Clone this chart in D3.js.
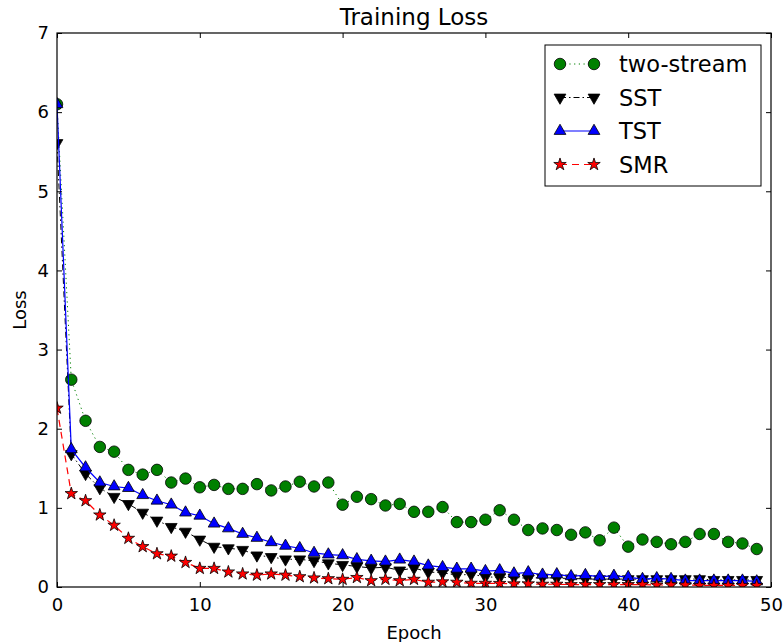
<html>

<head>
  <style>
    body {
      margin: 0;
      background: white;
    }
    text {
      font-family: "DejaVu Sans", sans-serif;
      fill: #000;
    }
  </style>
  <script src="https://d3js.org/d3.v7.min.js"></script>
</head>

<body>
  <svg></svg>
  <script type="text/javascript">
    var epochs = [0, 1, 2, 3, 4, 5, 6, 7, 8, 9, 10, 11, 12, 13, 14, 15, 16, 17, 18, 19,
      20, 21, 22, 23, 24, 25, 26, 27, 28, 29, 30, 31, 32, 33, 34, 35, 36, 37, 38, 39,
      40, 41, 42, 43, 44, 45, 46, 47, 48, 49]

    var twoStream = [6.10, 2.62, 2.10, 1.77, 1.71, 1.48, 1.42, 1.48, 1.32, 1.37,
      1.26, 1.29, 1.24, 1.24, 1.30, 1.22, 1.27, 1.33, 1.27, 1.32,
      1.04, 1.14, 1.11, 1.03, 1.05, 0.95, 0.95, 1.01, 0.82, 0.82,
      0.85, 0.97, 0.85, 0.72, 0.74, 0.72, 0.66, 0.69, 0.59, 0.75,
      0.51, 0.60, 0.57, 0.54, 0.57, 0.67, 0.67, 0.57, 0.55, 0.48]

    var sst = [5.61, 1.68, 1.43, 1.25, 1.14, 1.05, 0.94, 0.84, 0.76, 0.70,
      0.60, 0.51, 0.49, 0.47, 0.40, 0.38, 0.35, 0.35, 0.33, 0.30,
      0.28, 0.26, 0.24, 0.25, 0.21, 0.24, 0.19, 0.18, 0.15, 0.16,
      0.13, 0.12, 0.12, 0.11, 0.12, 0.11, 0.11, 0.10, 0.10, 0.10,
      0.10, 0.10, 0.10, 0.10, 0.10, 0.10, 0.09, 0.09, 0.09, 0.09]

    var tst = [6.10, 1.74, 1.51, 1.32, 1.27, 1.25, 1.16, 1.09, 1.04, 0.94,
      0.90, 0.80, 0.74, 0.67, 0.62, 0.565, 0.52, 0.49, 0.43, 0.41,
      0.40, 0.35, 0.33, 0.32, 0.345, 0.32, 0.27, 0.25, 0.23, 0.23,
      0.20, 0.21, 0.17, 0.185, 0.155, 0.16, 0.135, 0.15, 0.13, 0.14,
      0.125, 0.10, 0.11, 0.10, 0.08, 0.08, 0.08, 0.08, 0.08, 0.07]

    var smr = [2.26, 1.18, 1.09, 0.91, 0.78, 0.615, 0.51, 0.42, 0.39, 0.31,
      0.235, 0.235, 0.19, 0.165, 0.15, 0.165, 0.15, 0.13, 0.115, 0.105,
      0.097, 0.12, 0.08, 0.097, 0.08, 0.097, 0.06, 0.065, 0.06, 0.047,
      0.047, 0.045, 0.04, 0.04, 0.035, 0.035, 0.03, 0.03, 0.03, 0.03,
      0.03, 0.03, 0.025, 0.025, 0.025, 0.02, 0.02, 0.02, 0.02, 0.02]

    var seriesNames = ["two-stream", "SST", "TST", "SMR"]
    var xTicks = [0, 10, 20, 30, 40, 50]
    var yTicks = [0, 1, 2, 3, 4, 5, 6, 7]

    var w = 783
    var h = 642
    var plotLeft = 57
    var plotRight = 771
    var plotTop = 33
    var plotBottom = 587

    // line style per series
    var styles = [
      { color: "#008000", dash: "1.2,3.5", width: 1, marker: "circle" },
      { color: "#000000", dash: "6,3,1.5,3", width: 1, marker: "down" },
      { color: "#0000ff", dash: null, width: 1.2, marker: "up" },
      { color: "#ff0000", dash: "7,5", width: 1.2, marker: "star" }
    ]
    var allSeries = [twoStream, sst, tst, smr]

    var xScale = d3.scaleLinear().domain([0, 50]).range([plotLeft, plotRight])
    var yScale = d3.scaleLinear().domain([0, 7]).range([plotBottom, plotTop])

    var svg = d3.select("svg")
      .attr("width", w)
      .attr("height", h)

    svg.append("defs").append("clipPath")
      .attr("id", "plotclip")
      .append("rect")
      .attr("x", plotLeft)
      .attr("y", plotTop)
      .attr("width", plotRight - plotLeft)
      .attr("height", plotBottom - plotTop)

    var markerPath = function(kind) {
      if (kind == "circle") return d3.symbol().type(d3.symbolCircle).size(104)()
      if (kind == "star") return d3.symbol().type(d3.symbolStar).size(48)()
      return d3.symbol().type(d3.symbolTriangle).size(60)()
    }

    var drawMarker = function(g, kind, color, x, y) {
      g.append("path")
        .attr("d", markerPath(kind))
        .attr("transform", "translate(" + x + "," + y + ")" + (kind == "down" ? " rotate(180)" : ""))
        .attr("fill", color)
        .attr("stroke", "#000")
        .attr("stroke-width", 0.8)
    }

    var plot = svg.append("g").attr("clip-path", "url(#plotclip)")

    var line = d3.line()
      .x(function(d, i) { return xScale(epochs[i]) })
      .y(function(d) { return yScale(d) })

    allSeries.forEach(function(values, s) {
      var st = styles[s]
      var g = plot.append("g")
      g.append("path")
        .datum(values)
        .attr("d", line)
        .attr("fill", "none")
        .attr("stroke", st.color)
        .attr("stroke-width", st.width)
        .attr("stroke-dasharray", st.dash)
      values.forEach(function(v, i) {
        drawMarker(g, st.marker, st.color, xScale(epochs[i]), yScale(v))
      })
    })

    // axes, ticks pointing inward on all four sides
    var xAxis = d3.axisBottom(xScale).tickValues(xTicks).tickSize(-5).tickPadding(11)
      .tickFormat(d3.format("d"))
    var yAxis = d3.axisLeft(yScale).tickValues(yTicks).tickSize(-5).tickPadding(8)
      .tickFormat(d3.format("d"))

    svg.append("g")
      .attr("transform", "translate(0," + plotBottom + ")")
      .call(xAxis)
    svg.append("g")
      .attr("transform", "translate(" + plotLeft + ",0)")
      .call(yAxis)
    svg.append("g")
      .attr("transform", "translate(0," + plotTop + ")")
      .call(d3.axisTop(xScale).tickValues(xTicks).tickSize(-5).tickFormat(""))
    svg.append("g")
      .attr("transform", "translate(" + plotRight + ",0)")
      .call(d3.axisRight(yScale).tickValues(yTicks).tickSize(-5).tickFormat(""))

    svg.selectAll(".domain").remove()
    svg.selectAll(".tick line").attr("stroke", "#000").attr("stroke-width", 1)
    svg.selectAll(".tick text")
      .style("font-size", "18px")
      .style("font-family", "'DejaVu Sans', sans-serif")
      .attr("fill", "#000")

    svg.append("rect")
      .attr("x", plotLeft)
      .attr("y", plotTop)
      .attr("width", plotRight - plotLeft)
      .attr("height", plotBottom - plotTop)
      .attr("fill", "none")
      .attr("stroke", "#000")
      .attr("stroke-width", 1.2)

    // title and labels
    svg.append("text")
      .text("Training Loss")
      .attr("x", (plotLeft + plotRight) / 2)
      .attr("y", 25)
      .attr("text-anchor", "middle")
      .style("font-size", "23px")

    svg.append("text")
      .text("Epoch")
      .attr("x", (plotLeft + plotRight) / 2)
      .attr("y", 639)
      .attr("text-anchor", "middle")
      .style("font-size", "18px")

    svg.append("text")
      .text("Loss")
      .attr("transform", "translate(26," + (plotTop + plotBottom) / 2 + ") rotate(-90)")
      .attr("text-anchor", "middle")
      .style("font-size", "18px")

    // legend
    var legend = svg.append("g")
    legend.append("rect")
      .attr("x", 545)
      .attr("y", 45)
      .attr("width", 216)
      .attr("height", 141)
      .attr("fill", "white")
      .attr("stroke", "#000")
      .attr("stroke-width", 1)

    seriesNames.forEach(function(name, s) {
      var st = styles[s]
      var y = 64 + s * 33.5
      legend.append("line")
        .attr("x1", 560)
        .attr("x2", 594)
        .attr("y1", y)
        .attr("y2", y)
        .attr("stroke", st.color)
        .attr("stroke-width", st.width)
        .attr("stroke-dasharray", st.dash)
      drawMarker(legend, st.marker, st.color, 560, y)
      drawMarker(legend, st.marker, st.color, 594, y)
      legend.append("text")
        .text(name)
        .attr("x", 619)
        .attr("y", y)
        .attr("dy", "0.36em")
        .style("font-size", "22.5px")
    })
  </script>
</body>

</html>
